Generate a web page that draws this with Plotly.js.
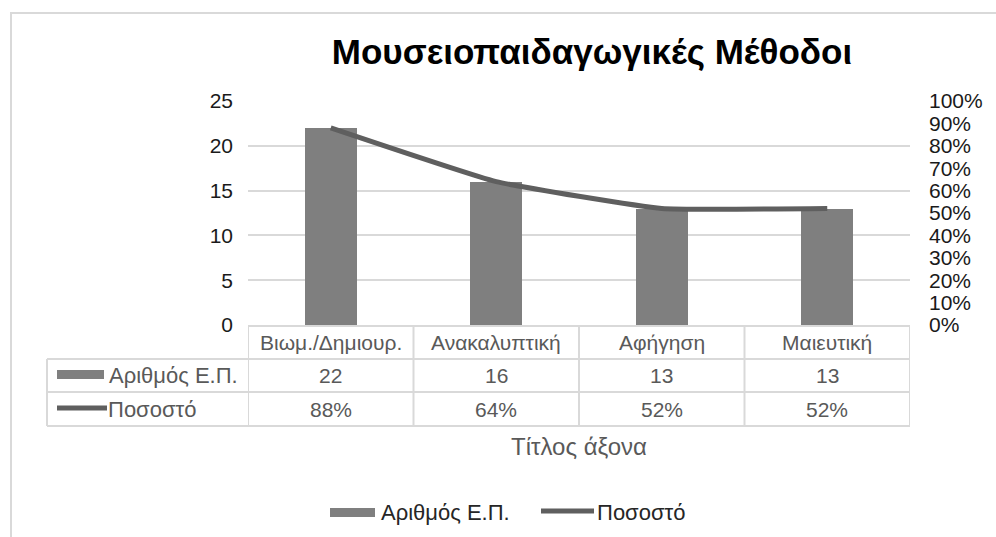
<!DOCTYPE html>
<html>
<head>
<meta charset="utf-8">
<script src="https://cdn.plot.ly/plotly-3.0.1.min.js"></script>
<style>
  html, body { margin: 0; padding: 0; width: 996px; height: 537px; overflow: hidden; background: #fff; }
  #chart { position: absolute; left: 0; top: 0; width: 996px; height: 537px; }
  #frame { position: absolute; left: 10px; top: 12px; width: 1000px; height: 600px; border: 2px solid #d9d9d9; pointer-events: none; }
</style>
</head>
<body>
<div id="chart"></div>
<div id="frame"></div>
<script>
const chartTitle = "Μουσειοπαιδαγωγικές Μέθοδοι";
const axisTitle = "Τίτλος άξονα";
const categories = ["Βιωμ./Δημιουρ.", "Ανακαλυπτική", "Αφήγηση", "Μαιευτική"];
const counts = [22, 16, 13, 13];
const shares = [0.88, 0.64, 0.52, 0.52];
const seriesNames = ["Αριθμός Ε.Π.", "Ποσοστό"];

const FONT = "Liberation Sans, Arial, sans-serif";
const BAR_COLOR = "#7f7f7f";
const LINE_COLOR = "#5f5f5f";
const GRID = "#d9d9d9";
const TABLE_TEXT = "#595959";

// plot area in pixels
const L = 248, R = 996 - 910, T = 101, B = 537 - 325;
const PW = 996 - L - R, PH = 537 - T - B;
const px = x => (x - L) / PW;          // pixel x -> paper
const py = y => (537 - B - y) / PH;    // pixel y -> paper

const traces = [
  {
    type: "bar", name: seriesNames[0], x: categories, y: counts,
    marker: { color: BAR_COLOR }, width: 0.315, hoverinfo: "x+y"
  },
  {
    type: "scatter", mode: "lines", name: seriesNames[1], x: categories, y: shares,
    yaxis: "y2", line: { color: LINE_COLOR, width: 5, shape: "spline", smoothing: 0.35 }
  }
];

const shapes = [];
const annotations = [];
const lineStyle = { color: GRID, width: 2 };

// table horizontal lines
shapes.push({ type: "line", xref: "x", yref: "paper", x0: -0.5, x1: categories.length - 0.5, y0: py(326), y1: py(326), line: lineStyle });
[359, 392, 426].forEach(yy => {
  shapes.push({ type: "line", xref: "paper", yref: "paper", x0: px(47), x1: 1, y0: py(yy), y1: py(yy), line: lineStyle });
});
// table vertical lines
shapes.push({ type: "line", xref: "paper", yref: "paper", x0: px(47), x1: px(47), y0: py(359), y1: py(426), line: lineStyle });
for (let i = 0; i <= categories.length; i++) {
  shapes.push({ type: "line", xref: "x", yref: "paper", x0: i - 0.5, x1: i - 0.5, y0: py(326), y1: py(426), line: lineStyle });
}

// table header and values
categories.forEach((c, i) => {
  annotations.push({ xref: "x", yref: "paper", x: c, y: py(342), text: c, showarrow: false,
    font: { family: FONT, size: 21, color: TABLE_TEXT }, xanchor: "center", yanchor: "middle" });
  annotations.push({ xref: "x", yref: "paper", x: c, y: py(375), text: String(counts[i]), showarrow: false,
    font: { family: FONT, size: 21, color: TABLE_TEXT }, xanchor: "center", yanchor: "middle" });
  annotations.push({ xref: "x", yref: "paper", x: c, y: py(409), text: Math.round(shares[i] * 100) + "%", showarrow: false,
    font: { family: FONT, size: 21, color: TABLE_TEXT }, xanchor: "center", yanchor: "middle" });
});

// table row keys and labels
shapes.push({ type: "rect", xref: "paper", yref: "paper", x0: px(57), x1: px(104), y0: py(370), y1: py(379), fillcolor: BAR_COLOR, line: { width: 0 } });
shapes.push({ type: "line", xref: "paper", yref: "paper", x0: px(57), x1: px(107), y0: py(408), y1: py(408), line: { color: LINE_COLOR, width: 5 } });
annotations.push({ xref: "paper", yref: "paper", x: px(107), y: py(375), text: seriesNames[0], showarrow: false,
  font: { family: FONT, size: 22, color: TABLE_TEXT }, xanchor: "left", yanchor: "middle" });
annotations.push({ xref: "paper", yref: "paper", x: px(106), y: py(409), text: seriesNames[1], showarrow: false,
  font: { family: FONT, size: 22, color: TABLE_TEXT }, xanchor: "left", yanchor: "middle" });

// axis title
annotations.push({ xref: "paper", yref: "paper", x: 0.5, y: py(446), text: axisTitle, showarrow: false,
  font: { family: FONT, size: 24, color: TABLE_TEXT }, xanchor: "center", yanchor: "middle" });

// legend (drawn manually to mimic the wide keys)
shapes.push({ type: "rect", xref: "paper", yref: "paper", x0: px(330), x1: px(375), y0: py(508), y1: py(517), fillcolor: BAR_COLOR, line: { width: 0 } });
annotations.push({ xref: "paper", yref: "paper", x: px(379), y: py(512), text: seriesNames[0], showarrow: false,
  font: { family: FONT, size: 22, color: "#262626" }, xanchor: "left", yanchor: "middle" });
shapes.push({ type: "line", xref: "paper", yref: "paper", x0: px(541), x1: px(594), y0: py(511), y1: py(511), line: { color: LINE_COLOR, width: 5 } });
annotations.push({ xref: "paper", yref: "paper", x: px(595), y: py(512), text: seriesNames[1], showarrow: false,
  font: { family: FONT, size: 22, color: "#262626" }, xanchor: "left", yanchor: "middle" });

const layout = {
  width: 996, height: 537,
  margin: { l: L, r: R, t: T, b: B, pad: 0 },
  paper_bgcolor: "#ffffff", plot_bgcolor: "#ffffff",
  showlegend: false,
  bargap: 0,
  title: {
    text: chartTitle, x: 592 / 996, xanchor: "center", xref: "container",
    y: 1 - 52 / 537, yanchor: "middle", yref: "container",
    font: { family: FONT, size: 35, color: "#000000", weight: 700 }
  },
  xaxis: {
    type: "category", range: [-0.5, categories.length - 0.5],
    showticklabels: false, showgrid: false, zeroline: false, showline: false, ticks: "", fixedrange: true
  },
  yaxis: {
    range: [0, 25], dtick: 5, tick0: 0,
    gridcolor: GRID, gridwidth: 2, zeroline: false, showline: false, ticks: "",
    tickfont: { family: FONT, size: 21, color: "#1a1a1a" }, ticklabelstandoff: 14, fixedrange: true
  },
  yaxis2: {
    overlaying: "y", side: "right", range: [0, 1], dtick: 0.1, tick0: 0, tickformat: ".0%",
    showgrid: false, zeroline: false, showline: false, ticks: "",
    tickfont: { family: FONT, size: 21, color: "#1a1a1a" }, ticklabelstandoff: 18, fixedrange: true
  },
  shapes: shapes,
  annotations: annotations
};

Plotly.newPlot("chart", traces, layout, { staticPlot: true, displayModeBar: false });
</script>
</body>
</html>
